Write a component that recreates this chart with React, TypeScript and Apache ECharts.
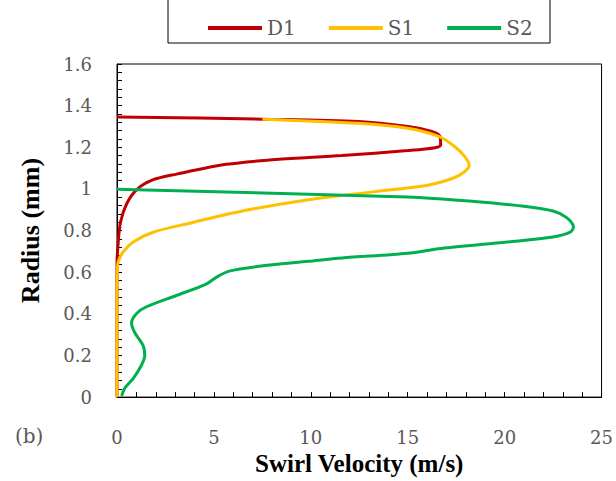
import React, { useEffect, useRef } from "react";
import * as echarts from "echarts";

const seriesNames = ["D1", "S1", "S2"];
const seriesColors = ["#C00000", "#FFC000", "#00B050"];

// [swirl velocity (m/s), radius (mm)]
const d1: number[][] = [
  [0, 0], [0, 0.4], [0, 0.64], [0.06, 0.74], [0.18, 0.84], [0.51, 0.931], [1.02, 0.997], [1.84, 1.043],
  [3.07, 1.071], [5.64, 1.118], [8.2, 1.141], [11.6, 1.16], [15.0, 1.184],
  [16.4, 1.198], [16.7, 1.212], [16.65, 1.254], [16.2, 1.277], [15.0, 1.3],
  [12.45, 1.324], [7.48, 1.335], [0, 1.346],
];
const s1: number[][] = [
  [0, 0], [0, 0.4], [0.02, 0.62], [0.07, 0.652], [0.32, 0.698], [0.84, 0.745], [1.86, 0.792],
  [3.91, 0.839], [6.47, 0.894], [9.89, 0.948], [13.3, 0.987], [16.03, 1.018],
  [17.3, 1.05], [17.9, 1.08], [18.17, 1.115], [17.9, 1.16], [17.4, 1.205], [16.6, 1.252],
  [15.0, 1.291], [12.45, 1.315], [7.5, 1.335],
];
const s2: number[][] = [
  [0.24, 0.005], [0.41, 0.044], [0.84, 0.09], [1.26, 0.153], [1.43, 0.2], [1.35, 0.247],
  [0.92, 0.309], [0.75, 0.356], [1.01, 0.402], [1.52, 0.434], [3.06, 0.488],
  [4.6, 0.543], [5.1, 0.574], [5.79, 0.605], [7.33, 0.628], [9.89, 0.652],
  [11.6, 0.668], [15.0, 0.691], [16.72, 0.714], [20.13, 0.745], [22.5, 0.769],
  [23.38, 0.792], [23.55, 0.816], [23.2, 0.862], [22.5, 0.894], [20.99, 0.917],
  [18.43, 0.94], [15.0, 0.961], [0, 0.998],
];
const seriesData = [d1, s1, s2];

const xTitle = "Swirl Velocity (m/s)";
const yTitle = "Radius (mm)";
const panelLabel = "(b)";

const LABEL_FONT = "DejaVu Serif";
const TITLE_FONT = "Liberation Serif";
const GRAY = "#595959";

export default function App() {
  const ref = useRef<HTMLDivElement>(null);
  useEffect(() => {
    if (!ref.current) return;
    const chart = echarts.init(ref.current, undefined, { renderer: "svg" });
    chart.setOption({
      animation: false,
      backgroundColor: "#fff",
      grid: {
        left: 117, top: 64, right: 11, bottom: 75,
        show: true, borderColor: "#000", borderWidth: 1,
      },
      legend: {
        left: 203, top: 13,
        icon: "rect",
        itemWidth: 54, itemHeight: 4, itemGap: 33,
        textStyle: { fontFamily: LABEL_FONT, fontSize: 20, color: GRAY },
        data: seriesNames,
      },
      xAxis: {
        type: "value", min: 0, max: 25, interval: 5,
        name: xTitle, nameLocation: "middle", nameGap: 49,
        nameTextStyle: { fontFamily: TITLE_FONT, fontSize: 25, fontWeight: "bold", color: "#000" },
        axisLine: { show: true, lineStyle: { color: "#000", width: 1 } },
        axisTick: { show: true, inside: true, length: 5, lineStyle: { color: "#000" } },
        minorTick: { show: true, splitNumber: 5, length: 5, lineStyle: { color: "#000" } },
        splitLine: { show: false },
        axisLabel: { margin: 31, fontFamily: LABEL_FONT, fontSize: 18, color: GRAY },
      },
      yAxis: {
        type: "value", min: 0, max: 1.6, interval: 0.2,
        name: yTitle, nameLocation: "middle", nameGap: 74, nameRotate: 90,
        nameTextStyle: { fontFamily: TITLE_FONT, fontSize: 26, fontWeight: "bold", color: "#000" },
        axisLine: { show: true, lineStyle: { color: "#000", width: 1 } },
        axisTick: { show: true, inside: true, length: 5, lineStyle: { color: "#000" } },
        minorTick: { show: true, splitNumber: 5, length: 5, lineStyle: { color: "#000" } },
        splitLine: { show: false },
        axisLabel: {
          margin: 25, fontFamily: LABEL_FONT, fontSize: 18, color: GRAY,
          formatter: (v: number) => (Math.round(v * 10) / 10).toString(),
        },
      },
      graphic: [
        {
          type: "rect",
          shape: { x: 168, y: -5, width: 382, height: 48 },
          style: { fill: "none", stroke: "#000", lineWidth: 1 },
          z: 0,
        },
        {
          type: "text", left: 15, top: 426,
          style: { text: panelLabel, fontFamily: LABEL_FONT, fontSize: 20, fill: GRAY },
        },
      ],
      series: seriesNames.map((name, i) => ({
        name,
        type: "line",
        data: seriesData[i],
        smooth: 0.3,
        showSymbol: false,
        symbol: "none",
        lineStyle: { color: seriesColors[i], width: 3 },
        itemStyle: { color: seriesColors[i] },
        clip: false,
      })),
    });
    return () => chart.dispose();
  }, []);
  return <div ref={ref} style={{ width: 616, height: 481, position: "absolute", left: 0, top: 0 }} />;
}
